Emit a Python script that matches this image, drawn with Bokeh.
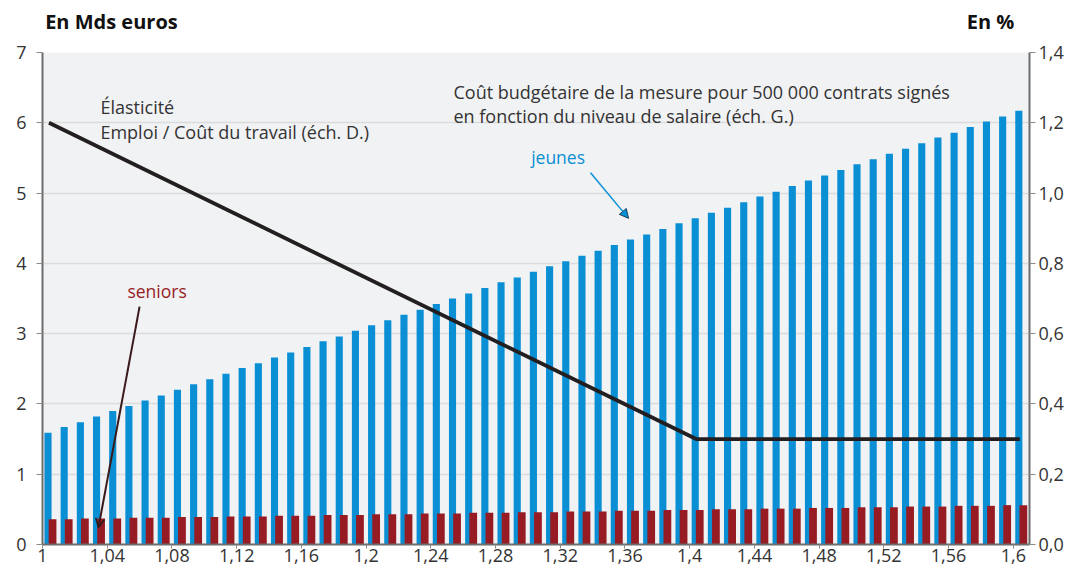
from bokeh.plotting import figure
from bokeh.models import (Range1d, LinearAxis, FixedTicker, Arrow, NormalHead, OpenHead, Label)
from bokeh.embed import file_html
from bokeh.resources import INLINE

# ---------------- data ----------------
salaire = [round(1.00 + 0.01 * i, 2) for i in range(61)]  # niveau de salaire (x SMIC)
jeunes = [1.59, 1.67, 1.74, 1.82, 1.90, 1.97, 2.05, 2.12, 2.20, 2.28,
          2.35, 2.43, 2.51, 2.58, 2.66, 2.73, 2.81, 2.89, 2.96, 3.04,
          3.12, 3.19, 3.27, 3.34, 3.42, 3.50, 3.57, 3.65, 3.73, 3.80,
          3.88, 3.96, 4.03, 4.11, 4.18, 4.26, 4.34, 4.41, 4.49, 4.57,
          4.64, 4.72, 4.79, 4.87, 4.95, 5.02, 5.10, 5.18, 5.25, 5.33,
          5.41, 5.48, 5.56, 5.63, 5.71, 5.79, 5.86, 5.94, 6.02, 6.09,
          6.17]
seniors = [0.36, 0.36, 0.37, 0.37, 0.37, 0.38, 0.38, 0.38, 0.39, 0.39,
           0.39, 0.40, 0.40, 0.40, 0.41, 0.41, 0.41, 0.42, 0.42, 0.42,
           0.43, 0.43, 0.43, 0.44, 0.44, 0.44, 0.45, 0.45, 0.45, 0.46,
           0.46, 0.46, 0.47, 0.47, 0.47, 0.48, 0.48, 0.48, 0.49, 0.49,
           0.49, 0.50, 0.50, 0.50, 0.51, 0.51, 0.51, 0.52, 0.52, 0.52,
           0.53, 0.53, 0.53, 0.54, 0.54, 0.54, 0.55, 0.55, 0.55, 0.56,
           0.56]
elasticite_x = [1.00, 1.40, 1.60]
elasticite = [1.2, 0.3, 0.3]

x_ticks = [1.0, 1.04, 1.08, 1.12, 1.16, 1.2, 1.24, 1.28, 1.32, 1.36, 1.4, 1.44, 1.48, 1.52, 1.56, 1.6]
x_tick_labels = ["1", "1,04", "1,08", "1,12", "1,16", "1,2", "1,24", "1,28", "1,32", "1,36",
                 "1,4", "1,44", "1,48", "1,52", "1,56", "1,6"]
left_ticks = [0, 1, 2, 3, 4, 5, 6, 7]
right_ticks = [0.0, 0.2, 0.4, 0.6, 0.8, 1.0, 1.2, 1.4]
right_tick_labels = ["0,0", "0,2", "0,4", "0,6", "0,8", "1,0", "1,2", "1,4"]
unit_titles = ["En Mds euros", "En %"]

BLUE = "#0a8fd5"
RED = "#971b22"
TXT = "#333333"
FONT = "Open Sans"

# ---------------- figure ----------------
p = figure(width=1068, height=576, output_backend="svg", toolbar_location=None,
           x_range=Range1d(1.0, 1.61), y_range=Range1d(0, 7),
           min_border_left=42, min_border_right=39, min_border_top=52, min_border_bottom=32)
p.extra_y_ranges = {"pct": Range1d(0, 1.4)}
p.background_fill_color = "#f1f2f4"
p.border_fill_color = "white"
p.outline_line_color = None

# bars (slot of 0.01 per salary level; blue then red, overlapping)
xb = [v + 0.0034 for v in salaire]
xr = [v + 0.0062 for v in salaire]
p.vbar(x=xb, top=jeunes, bottom=0, width=0.0044, fill_color=BLUE, line_color=None)
p.vbar(x=xr, top=seniors, bottom=0, width=0.0048, fill_color=RED, line_color=None)

# elasticity line (right scale)
xl = [v + 0.004 for v in elasticite_x]
p.line(xl, elasticite, y_range_name="pct", line_color="#231f20", line_width=3.8)

# ---------------- axes ----------------
for ax in [p.xaxis[0], p.yaxis[0]]:
    ax.axis_line_color = "#6d6d6d"
    ax.axis_line_width = 2
    ax.major_tick_line_color = "#8a8a8a"
    ax.minor_tick_line_color = None
    ax.major_label_text_font = FONT
    ax.major_label_text_font_size = "18px"
    ax.major_label_text_color = TXT

p.xaxis.ticker = FixedTicker(ticks=x_ticks)
p.xaxis.major_label_overrides = {t: l for t, l in zip(x_ticks, x_tick_labels)}
p.xaxis.major_tick_in = 0
p.xaxis.major_tick_out = 4
p.xaxis.major_label_standoff = 0

p.yaxis.ticker = FixedTicker(ticks=left_ticks)
p.yaxis.major_tick_in = 0
p.yaxis.major_tick_out = 6
p.yaxis.major_label_standoff = 10

ra = LinearAxis(y_range_name="pct", ticker=FixedTicker(ticks=right_ticks))
ra.major_label_overrides = {t: l for t, l in zip(right_ticks, right_tick_labels)}
ra.axis_line_color = "#6d6d6d"
ra.axis_line_width = 2
ra.major_tick_line_color = "#8a8a8a"
ra.minor_tick_line_color = None
ra.major_tick_in = 0
ra.major_tick_out = 6
ra.major_label_standoff = 3
ra.major_label_text_font = FONT
ra.major_label_text_font_size = "18px"
ra.major_label_text_color = TXT
p.add_layout(ra, "right")

# unit titles above the plot area (an invisible axis carrying two labels)
title_pos = [1.0426, 1.5859]
ta = LinearAxis(ticker=FixedTicker(ticks=title_pos))
ta.major_label_overrides = {t: l for t, l in zip(title_pos, unit_titles)}
ta.axis_line_color = None
ta.major_tick_line_color = None
ta.minor_tick_line_color = None
ta.major_tick_out = 0
ta.major_tick_in = 0
ta.major_label_standoff = 18
ta.major_label_text_font = FONT
ta.major_label_text_font_size = "20px"
ta.major_label_text_font_style = "bold"
ta.major_label_text_color = "#111111"
p.add_layout(ta, "above")

p.xgrid.grid_line_color = None
p.ygrid.grid_line_color = "#dcdcdc"
p.ygrid.grid_line_width = 1.5
p.ygrid.ticker = FixedTicker(ticks=left_ticks)

# ---------------- texts ----------------
def lab(x, y, t, color=TXT, size="18px"):
    p.add_layout(Label(x=x, y=y, text=t, text_color=color,
                       text_font=FONT, text_font_size=size, text_baseline="middle",
                       text_align="left"))

lab(1.0358, 6.22, "Élasticité")
lab(1.0358, 5.875, "Emploi / Coût du travail (éch. D.)")
lab(1.254, 6.444, "Coût budgétaire de la mesure pour 500 000 contrats signés")
lab(1.254, 6.102, "en fonction du niveau de salaire (éch. G.)")
lab(1.302, 5.52, "jeunes", color=BLUE, size="17.5px")
lab(1.0525, 3.613, "seniors", color=RED, size="17.5px")

p.add_layout(Arrow(end=NormalHead(size=9, fill_color=BLUE, line_color="#1a3a5a", line_width=1),
                   x_start=1.3387, y_start=5.29, x_end=1.3622, y_end=4.64,
                   line_color=BLUE, line_width=1.5))
p.add_layout(Arrow(end=OpenHead(size=9, line_color="#2a1a1a", line_width=1.5),
                   x_start=1.060, y_start=3.385, x_end=1.0346, y_end=0.242,
                   line_color="#3a1a1a", line_width=2))

open("out.html", "w").write(file_html(p, INLINE))
